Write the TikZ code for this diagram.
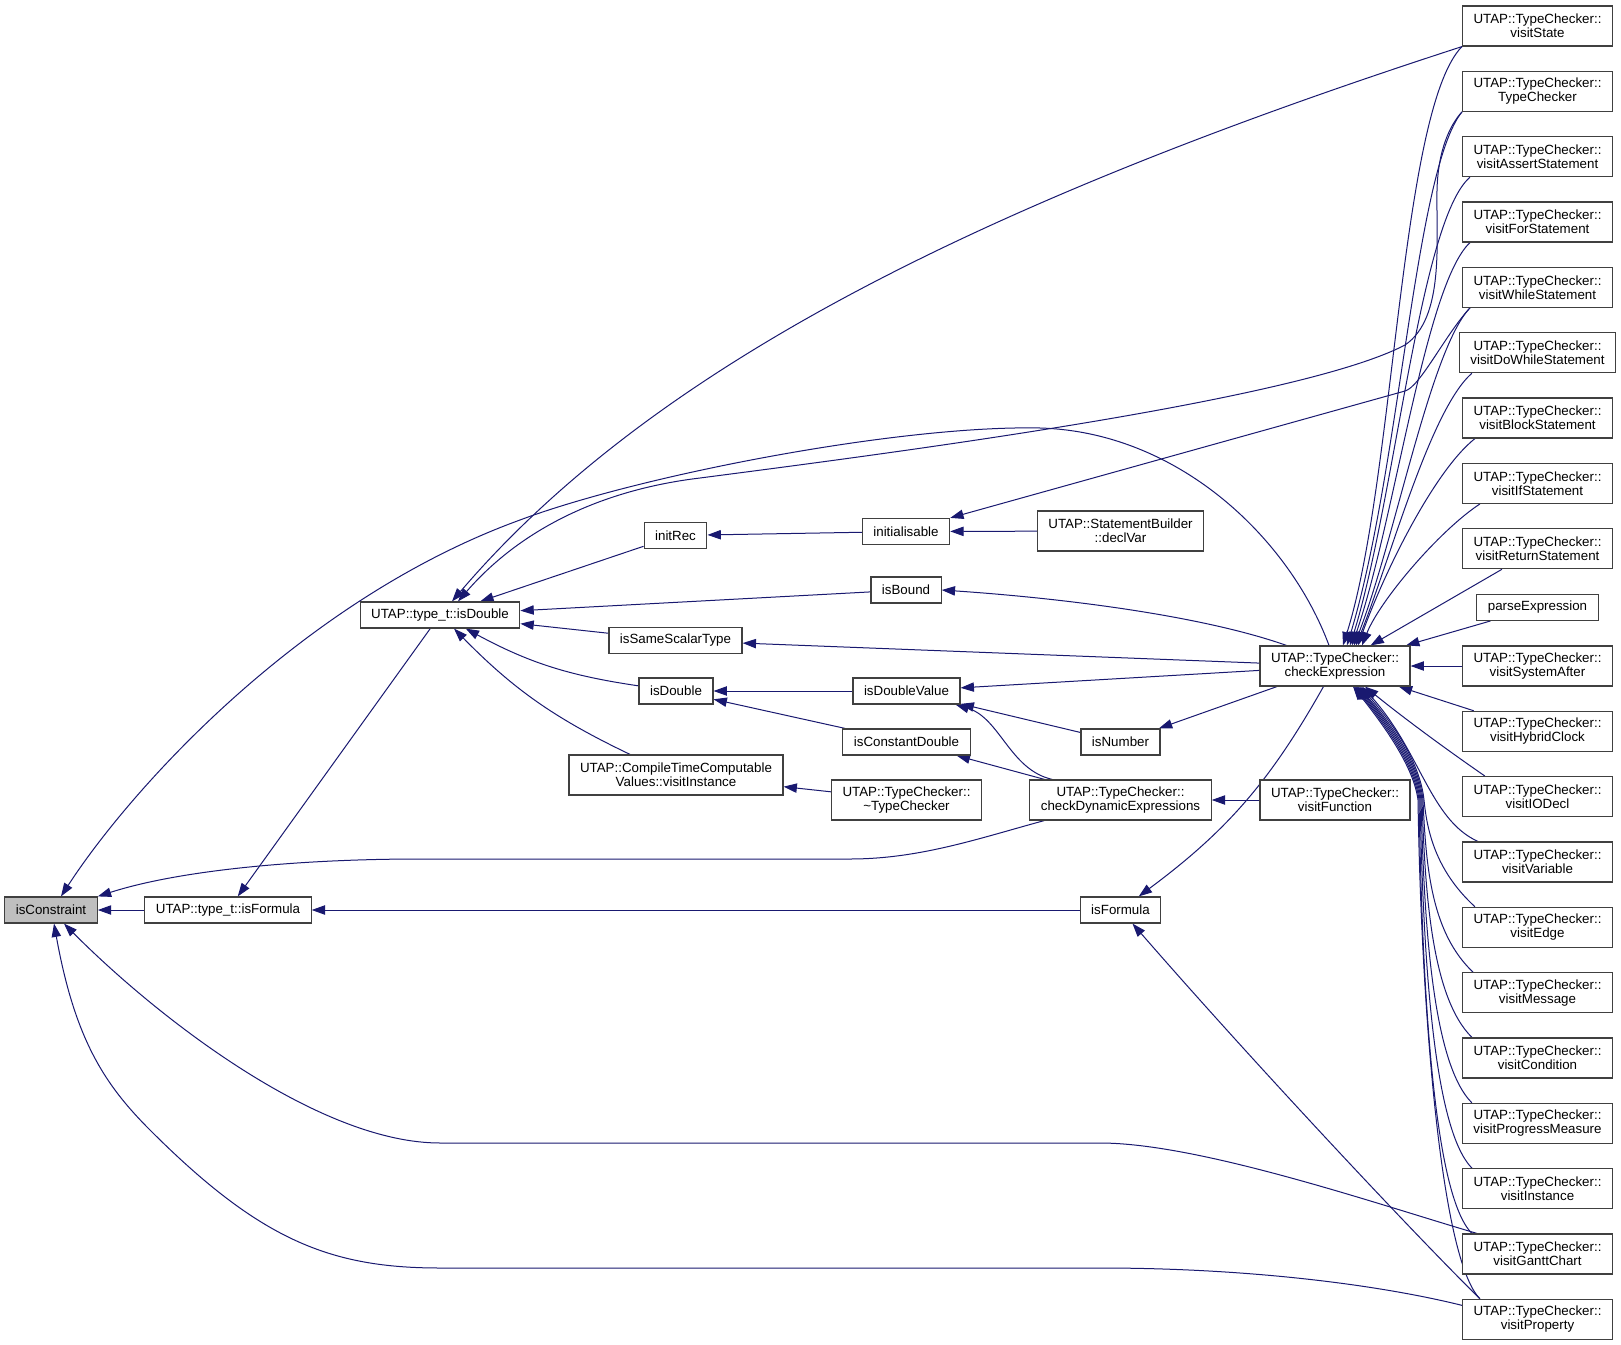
\documentclass[tikz,border=0pt]{standalone}
\usepackage{fontspec}
\setmainfont{Liberation Sans}
\usepackage{tikz}
\usetikzlibrary{arrows.meta, positioning, calc}
\definecolor{edgeblue}{HTML}{191970}
\definecolor{boxline}{HTML}{404040}
\definecolor{selfill}{HTML}{BFBFBF}
\pgfdeclarelayer{background}
\pgfdeclarelayer{edgelayer}
\pgfsetlayers{background,edgelayer,main}

\begin{document}
\begin{tikzpicture}[x=0.75pt, y=-0.75pt, node distance=49pt,
        fn/.style={draw=boxline, line width=0.9pt, rectangle, fill=white, font=\fontsize{10pt}{10.5pt}\selectfont, inner xsep=8.25pt, inner ysep=2pt, minimum height=19.5pt},
        fntwo/.style={fn, align=center, minimum height=30pt},
        calledge/.style={draw=edgeblue, line width=0.75pt, {Triangle[length=10pt, width=7pt]}-}]

        \begin{pgfonlayer}{background}
        \path[use as bounding box, fill=white] (0,0) rectangle (1621,1345);
        \end{pgfonlayer}

        \node (isconstraint) [fn, fill=selfill] at (51,910) {isConstraint};
        \node (tisformula) [fn] at (228,910) {UTAP::type\_t::isFormula};
        \node (tisdouble) [fn] at (440,615) {UTAP::type\_t::isDouble};
        \node (initrec) [fn] at (675.5,535.5) {initRec};
        \node (issamescalar) [fn] at (675.5,640.5) {isSameScalarType};
        \node (isdouble) [fn] at (676,691) {isDouble};
        \node (ctcvisit) [fntwo] at (676,775) {UTAP::CompileTimeComputable\\Values::visitInstance};
        \node (initialisable) [fn] at (906,531.5) {initialisable};
        \node (isbound) [fn] at (906,590) {isBound};
        \node (isdoublevalue) [fn] at (906.5,691) {isDoubleValue};
        \node (isconstdouble) [fn] at (906.5,742) {isConstantDouble};
        \node (tcdestructor) [fntwo] at (906.5,800) {UTAP::TypeChecker::\\\textasciitilde TypeChecker};
        \node (declvar) [fntwo] at (1120.5,531) {UTAP::StatementBuilder\\::declVar};
        \node (isnumber) [fn] at (1120.5,742) {isNumber};
        \node (checkdyn) [fntwo] at (1120.5,800) {UTAP::TypeChecker::\\checkDynamicExpressions};
        \node (isformula) [fn] at (1120.5,910) {isFormula};
        \node (checkexpr) [fntwo] at (1335,666) {UTAP::TypeChecker::\\checkExpression};
        \node (visitfunction) [fntwo, below of=checkexpr, node distance=100.5pt] {UTAP::TypeChecker::\\visitFunction};

        \node (visitstate) [fntwo] at (1537.5,26) {UTAP::TypeChecker::\\visitState};
        \node (typechecker) [fntwo, below of=visitstate] {UTAP::TypeChecker::\\TypeChecker};
        \node (visitassert) [fntwo, below of=typechecker] {UTAP::TypeChecker::\\visitAssertStatement};
        \node (visitfor) [fntwo, below of=visitassert] {UTAP::TypeChecker::\\visitForStatement};
        \node (visitwhile) [fntwo, below of=visitfor] {UTAP::TypeChecker::\\visitWhileStatement};
        \node (visitdowhile) [fntwo, below of=visitwhile] {UTAP::TypeChecker::\\visitDoWhileStatement};
        \node (visitblock) [fntwo, below of=visitdowhile] {UTAP::TypeChecker::\\visitBlockStatement};
        \node (visitif) [fntwo, below of=visitblock] {UTAP::TypeChecker::\\visitIfStatement};
        \node (visitreturn) [fntwo, below of=visitif] {UTAP::TypeChecker::\\visitReturnStatement};
        \node (parseexpr) [fn, below of=visitreturn, node distance=44pt] {parseExpression};
        \node (visitsysafter) [fntwo, below of=parseexpr, node distance=44pt] {UTAP::TypeChecker::\\visitSystemAfter};
        \node (visithybrid) [fntwo, below of=visitsysafter] {UTAP::TypeChecker::\\visitHybridClock};
        \node (visitiodecl) [fntwo, below of=visithybrid] {UTAP::TypeChecker::\\visitIODecl};
        \node (visitvariable) [fntwo, below of=visitiodecl] {UTAP::TypeChecker::\\visitVariable};
        \node (visitedge) [fntwo, below of=visitvariable] {UTAP::TypeChecker::\\visitEdge};
        \node (visitmessage) [fntwo, below of=visitedge] {UTAP::TypeChecker::\\visitMessage};
        \node (visitcondition) [fntwo, below of=visitmessage] {UTAP::TypeChecker::\\visitCondition};
        \node (visitprogress) [fntwo, below of=visitcondition] {UTAP::TypeChecker::\\visitProgressMeasure};
        \node (visitinstance) [fntwo, below of=visitprogress] {UTAP::TypeChecker::\\visitInstance};
        \node (visitgantt) [fntwo, below of=visitinstance] {UTAP::TypeChecker::\\visitGanttChart};
        \node (visitproperty) [fntwo, below of=visitgantt] {UTAP::TypeChecker::\\visitProperty};

        \begin{pgfonlayer}{edgelayer}
        \draw[calledge] (isconstraint) -- (tisformula);
        \draw[calledge] (tisformula) -- (isformula);
        \draw[calledge] (tisformula) -- (tisdouble);
        \draw[calledge] (tisdouble) -- (initrec);
        \draw[calledge] (tisdouble) -- (isbound);
        \draw[calledge] (tisdouble) -- (issamescalar);
        \draw[calledge] (tisdouble) to[bend right=10] (isdouble);
        \draw[calledge] (tisdouble) to[bend right=10] (ctcvisit);
        \draw[calledge] (initrec) -- (initialisable);
        \draw[calledge] (initialisable) -- (declvar);
        \draw[calledge] (isdouble) -- (isdoublevalue);
        \draw[calledge] (isdouble) -- (isconstdouble);
        \draw[calledge] (ctcvisit) -- (tcdestructor);
        \draw[calledge] (isdoublevalue) -- (isnumber);
        \draw[calledge] (isconstdouble) -- (checkdyn);
        \draw[calledge] (checkdyn) -- (visitfunction);
        \draw[calledge] ($(isdoublevalue.south east)+(-5,0)$) .. controls (1000,718) and (1010,770) .. ($(checkdyn.north west)+(23,0)$);
        \draw[calledge] (isbound.east) .. controls (1060,598) and (1200,615) .. ($(checkexpr.north west)+(27,0)$);
        \draw[calledge] (issamescalar) -- (checkexpr);
        \draw[calledge] (isdoublevalue) -- (checkexpr);
        \draw[calledge] (isnumber) -- (checkexpr);
        \draw[calledge] (isformula) to[bend right=12] (checkexpr);
        \draw[calledge] ($(isformula.south)+(12,0)$) .. controls (1260,1070) and (1420,1240) .. ($(visitproperty.north west)+(18,0)$);
        \draw[calledge] (initialisable.north east) -- (1405,391) .. controls (1420,387) and (1445,335) .. ($(visitwhile.south west)+(8,0)$);

        \draw[calledge] ($(tisdouble.north)+(12,0)$) .. controls (648,372) and (967,207) .. (visitstate.south west);
        \draw[calledge] ($(tisdouble.north)+(18,0)$) .. controls (520,530) and (600,490) .. (700,478) .. controls (900,452) and (1300,400) .. (1405,345) .. controls (1445,318) and (1436,240) .. (1437,190) .. controls (1438,150) and (1450,125) .. (typechecker.south west);

        \draw[calledge] ($(isconstraint.north)+(10,0)$) .. controls (130,790) and (300,600) .. (520,520) .. controls (640,475) and (900,425) .. (1040,428) .. controls (1180,432) and (1290,540) .. ($(checkexpr.north)+(-6,0)$);
        \draw[calledge] (isconstraint.north east) .. controls (180,870) and (300,859) .. (420,859) -- (850,859) .. controls (920,859) and (980,838) .. ($(checkdyn.south west)+(15,0)$);
        \draw[calledge] ($(isconstraint.south)+(13,0)$) .. controls (160,1020) and (320,1143) .. (440,1143) -- (1100,1143) .. controls (1200,1143) and (1380,1205) .. ($(visitgantt.north west)+(15,0)$);
        \draw[calledge] ($(isconstraint.south)+(3,0)$) .. controls (75,1040) and (105,1085) .. (150,1130) .. controls (260,1240) and (330,1268) .. (440,1268) -- (1100,1268) .. controls (1250,1268) and (1380,1285) .. ($(visitproperty.west)+(0,-14)$);

        \draw[calledge] ($(checkexpr.north)+(8,0)$) .. controls (1395,480) and (1400,110) .. (visitstate.south west);
        \draw[calledge] ($(checkexpr.north)+(12,0)$) .. controls (1400,470) and (1415,170) .. (typechecker.south west);
        \draw[calledge] ($(checkexpr.north)+(15,0)$) .. controls (1395,500) and (1420,220) .. ($(visitassert.south west)+(8,0)$);
        \draw[calledge] ($(checkexpr.north)+(17,0)$) .. controls (1395,520) and (1425,285) .. ($(visitfor.south west)+(8,0)$);
        \draw[calledge] ($(checkexpr.north)+(19,0)$) .. controls (1395,540) and (1430,350) .. ($(visitwhile.south west)+(8,0)$);
        \draw[calledge] ($(checkexpr.north)+(21,0)$) .. controls (1390,560) and (1430,410) .. ($(visitdowhile.south west)+(13,0)$);
        \draw[calledge] ($(checkexpr.north)+(23,0)$) .. controls (1385,570) and (1435,470) .. ($(visitblock.south west)+(13,0)$);
        \draw[calledge] ($(checkexpr.north)+(27,0)$) .. controls (1380,600) and (1440,530) .. ($(visitif.south west)+(18,0)$);
        \draw[calledge] (checkexpr) -- (visitreturn);
        \draw[calledge] (checkexpr) -- (parseexpr);
        \draw[calledge] (checkexpr) -- (visitsysafter);
        \draw[calledge] (checkexpr) -- (visithybrid);
        \draw[calledge] ($(checkexpr.south)+(30,0)$) .. controls (1400,715) and (1440,745) .. ($(visitiodecl.north west)+(23,0)$);
        \draw[calledge] ($(checkexpr.south)+(27,0)$) .. controls (1420,750) and (1430,820) .. ($(visitvariable.north west)+(16,0)$);
        \draw[calledge] ($(checkexpr.south)+(25,0)$) .. controls (1392,722) and (1420,762) .. (1424,800) .. controls (1427,830) and (1435,870) .. ($(visitedge.north west)+(13,0)$);
        \draw[calledge] ($(checkexpr.south)+(23,0)$) .. controls (1391,723) and (1419,763) .. (1423,800) .. controls (1426,870) and (1432,933) .. ($(visitmessage.north west)+(11,0)$);
        \draw[calledge] ($(checkexpr.south)+(22,0)$) .. controls (1390,724) and (1418,764) .. (1422,800) .. controls (1425,895) and (1432,998) .. ($(visitcondition.north west)+(10,0)$);
        \draw[calledge] ($(checkexpr.south)+(21,0)$) .. controls (1389,725) and (1417,765) .. (1421,800) .. controls (1424,920) and (1432,1063) .. ($(visitprogress.north west)+(10,0)$);
        \draw[calledge] ($(checkexpr.south)+(20,0)$) .. controls (1388,726) and (1416,766) .. (1420,800) .. controls (1423,945) and (1432,1128) .. ($(visitinstance.north west)+(10,0)$);
        \draw[calledge] ($(checkexpr.south)+(19,0)$) .. controls (1387,727) and (1415,767) .. (1419,800) .. controls (1422,975) and (1432,1194) .. ($(visitgantt.north west)+(10,0)$);
        \draw[calledge] ($(checkexpr.south)+(18,0)$) .. controls (1386,728) and (1414,768) .. (1418,800) .. controls (1421,1000) and (1440,1259) .. ($(visitproperty.north west)+(18,0)$);
        \end{pgfonlayer}
    \end{tikzpicture}
\end{document}
